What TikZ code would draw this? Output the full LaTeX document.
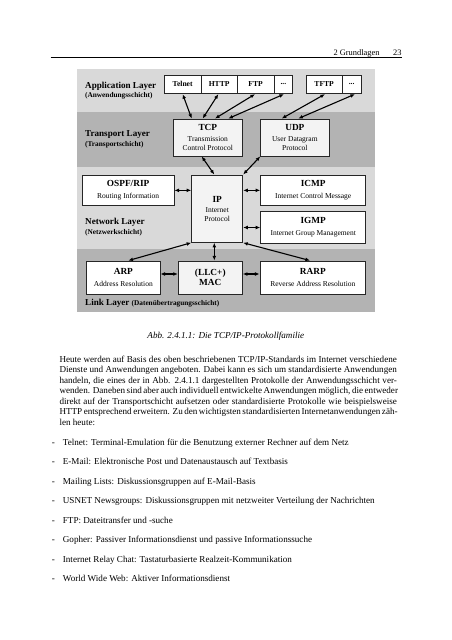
\documentclass[tikz,border=0pt]{standalone}
\usepackage{fontspec}
\setmainfont{Liberation Serif}
\usetikzlibrary{arrows.meta,calc}
\definecolor{laylight}{HTML}{D9D9D9}
\definecolor{laydark}{HTML}{B3B3B3}
\definecolor{boxgray}{HTML}{F3F3F3}
\newcommand\BoxTitle{\fontsize{9.3}{10.5}\selectfont\bfseries}
\newcommand\BoxSub{\fontsize{7.5}{8.8}\selectfont\mdseries}
\newcommand\AppFont{\fontsize{7.6}{8.5}\selectfont\bfseries}
\newcommand\LayFont{\fontsize{9.1}{10}\selectfont\bfseries}
\newcommand\LaySub{\fontsize{7.3}{8}\selectfont\bfseries}
\newcommand\BodyFont{\fontsize{9.1}{10.5}\selectfont}
\begin{document}
\begin{tikzpicture}[x=1pt,y=-1pt,
  box/.style={draw=black!85, line width=0.9pt, fill=white, inner sep=0pt, align=center, font=\BoxSub},
  boxg/.style={box, fill=boxgray},
  appbox/.style={box, minimum height=18pt, font=\AppFont},
  arr/.style={{Latex[length=4.6pt,width=3.8pt]}-{Latex[length=4.6pt,width=3.8pt]}, line width=1.1pt},
  lbl/.style={anchor=west, inner sep=0pt, align=left},
  txt/.style={inner sep=0pt, align=left}]
\useasboundingbox (0,0) rectangle (452,640);
\fill[white] (0,0) rectangle (452,640);
% header
\node[txt, anchor=base west] (hdr) at (333.3,55.2) {\fontsize{8.4}{9}\selectfont 2 Grundlagen};
\node[txt, anchor=base east] (pg) at (401.7,55.2) {\fontsize{8.4}{9}\selectfont 23};
\coordinate (rl) at (50.7,57.3);
\coordinate (rr) at (401.7,57.3);
\draw[line width=0.7pt] (rl) -- (rr);
% layer bands
\fill[laylight] (77.3,69.3) rectangle (375,111.7);
\fill[laydark] (77.3,111.7) rectangle (375,167.3);
\fill[laylight] (77.3,167.3) rectangle (375,249);
\fill[laydark] (77.3,249) rectangle (375,311.7);
% layer labels
\node[lbl] (appl) at (85,86.3) {\LayFont Application Layer};
\node[lbl] (appls) at (85,95.5) {\LaySub (Anwendungsschicht)};
\node[lbl] (trl) at (85,135) {\LayFont Transport Layer};
\node[lbl] (trls) at (85,145) {\LaySub (Transportschicht)};
\node[lbl] (nwl) at (85,222.7) {\LayFont Network Layer};
\node[lbl] (nwls) at (85,232.3) {\LaySub (Netzwerkschicht)};
\node[lbl] (lkl) at (85,303.3) {\LayFont Link Layer \LaySub (Datenübertragungsschicht)};
% application boxes
\node[appbox, minimum width=36.7pt] (telnet) at (182.65,84.7) {\raisebox{2pt}{Telnet}};
\node[appbox, minimum width=36.3pt] (http) at (219.15,84.7) {\raisebox{2pt}{HTTP}};
\node[appbox, minimum width=36.7pt] (ftp) at (255.65,84.7) {\raisebox{2pt}{FTP}};
\node[appbox, minimum width=18.7pt] (dotsa) at (283.35,84.7) {\raisebox{2pt}{...}};
\node[appbox, minimum width=36.3pt] (tftp) at (324.15,84.7) {\raisebox{2pt}{TFTP}};
\node[appbox, minimum width=18.7pt] (dotsb) at (351.65,84.7) {\raisebox{2pt}{...}};
% transport
\node[boxg, minimum width=69pt, minimum height=37pt] (tcp) at (207.8,137.5)
  {\BoxTitle TCP\\[1.8pt]\BoxSub Transmission\\\BoxSub Control Protocol};
\node[boxg, minimum width=68.3pt, minimum height=37pt] (udp) at (294.85,137.5)
  {\BoxTitle UDP\\[1.8pt]\BoxSub User Datagram\\\BoxSub Protocol};
% network
\node[box, minimum width=91.7pt, minimum height=30.7pt] (ospf) at (128.15,190.35)
  {\BoxTitle OSPF/RIP\\[2.8pt]\BoxSub Routing Information};
\node[boxg, minimum width=51pt, minimum height=67.3pt] (ip) at (217.2,208.65)
  {\BoxTitle IP\\[1.2pt]\BoxSub Internet\\\BoxSub Protocol};
\node[box, minimum width=105pt, minimum height=30.7pt] (icmp) at (313.2,190.35)
  {\BoxTitle ICMP\\[2.8pt]\BoxSub Internet Control Message};
\node[box, minimum width=105pt, minimum height=31.6pt] (igmp) at (313.2,227.5)
  {\BoxTitle IGMP\\[2.8pt]\BoxSub Internet Group Management};
% link
\node[box, minimum width=73.3pt, minimum height=33pt] (arp) at (123.35,277.5)
  {\BoxTitle ARP\\[2.8pt]\BoxSub Address Resolution};
\node[boxg, minimum width=64pt, minimum height=33pt] (mac) at (210.3,277.5)
  {\BoxTitle (LLC+)\\[1.2pt]\BoxTitle MAC};
\node[box, minimum width=105.7pt, minimum height=33pt] (rarp) at (312.85,277.5)
  {\BoxTitle RARP\\[2.8pt]\BoxSub Reverse Address Resolution};
% arrows application <-> transport
\draw[arr] (telnet.south) -- ([xshift=-16.1pt]tcp.north);
\draw[arr] ([xshift=-0.85pt]http.south) -- ([xshift=-5.1pt]tcp.north);
\draw[arr] ([xshift=-0.65pt]ftp.south) -- ([xshift=7.2pt]tcp.north);
\draw[arr] ([xshift=0.65pt]dotsa.south) -- ([xshift=20.5pt]tcp.north);
\draw[arr] ([xshift=0.85pt]tftp.south) -- ([xshift=-13.15pt]udp.north);
\draw[arr] ([xshift=3.35pt]dotsb.south) -- ([xshift=3.45pt]udp.north);
% transport <-> network
\draw[arr] ([xshift=-6.1pt]tcp.south) -- ([xshift=-2.9pt]ip.north);
\draw[arr] (udp.south west) -- (ip.north east);
\draw[arr] (ospf.east) -- (ospf.east -| ip.west);
\draw[arr] (icmp.west -| ip.east) -- (icmp.west);
\draw[arr] (igmp.west -| ip.east) -- (igmp.west);
% network <-> link
\draw[arr] (ip.south west) -- ([xshift=5pt]arp.north);
\draw[arr] ([xshift=-2.9pt]ip.south) -- ([xshift=4pt]mac.north);
\draw[arr] (ip.south east) -- ([xshift=-2.85pt]rarp.north);
\draw[arr] ([yshift=3.5pt]arp.east) -- ([yshift=3.5pt]mac.west);
\draw[arr] ([yshift=3.5pt]mac.east) -- ([yshift=3.5pt]rarp.west);
% caption
\node[txt, anchor=base] (cap) at (225.8,338) {\BodyFont\itshape Abb. 2.4.1.1: Die TCP/IP-Protokollfamilie};
% paragraph
\node[txt, anchor=north west, font=\BodyFont] (para) at (59.3,354.8) {%
\rule{0pt}{7pt}\makebox[337.4pt][s]{Heute werden auf Basis des oben beschriebenen TCP/IP-Standards im Internet verschiedene}\\
\makebox[337.4pt][s]{Dienste und Anwendungen angeboten. Dabei kann es sich um standardisierte Anwendungen}\\
\makebox[337.4pt][s]{handeln, die eines der in Abb. 2.4.1.1 dargestellten Protokolle der Anwendungsschicht ver-}\\
\makebox[337.4pt][s]{wenden. Daneben sind aber auch individuell entwickelte Anwendungen möglich, die entweder}\\
\makebox[337.4pt][s]{direkt auf der Transportschicht aufsetzen oder standardisierte Protokolle wie beispielsweise}\\
\makebox[337.4pt][s]{HTTP entsprechend erweitern. Zu den wichtigsten standardisierten Internetanwendungen zäh-}\\
len heute:};
% list
\node[txt, anchor=north west, font=\fontsize{9.1}{19.5}\selectfont] (list) at (51.7,437.8) {%
\rule{0pt}{7pt}\makebox[11pt][l]{-}Telnet: Terminal-Emulation für die Benutzung externer Rechner auf dem Netz\\
\makebox[11pt][l]{-}E-Mail: Elektronische Post und Datenaustausch auf Textbasis\\
\makebox[11pt][l]{-}Mailing Lists: Diskussionsgruppen auf E-Mail-Basis\\
\makebox[11pt][l]{-}USNET Newsgroups: Diskussionsgruppen mit netzweiter Verteilung der Nachrichten\\
\makebox[11pt][l]{-}FTP: Dateitransfer und -suche\\
\makebox[11pt][l]{-}Gopher: Passiver Informationsdienst und passive Informationssuche\\
\makebox[11pt][l]{-}Internet Relay Chat: Tastaturbasierte Realzeit-Kommunikation\\
\makebox[11pt][l]{-}World Wide Web: Aktiver Informationsdienst};
\end{tikzpicture}
\end{document}
